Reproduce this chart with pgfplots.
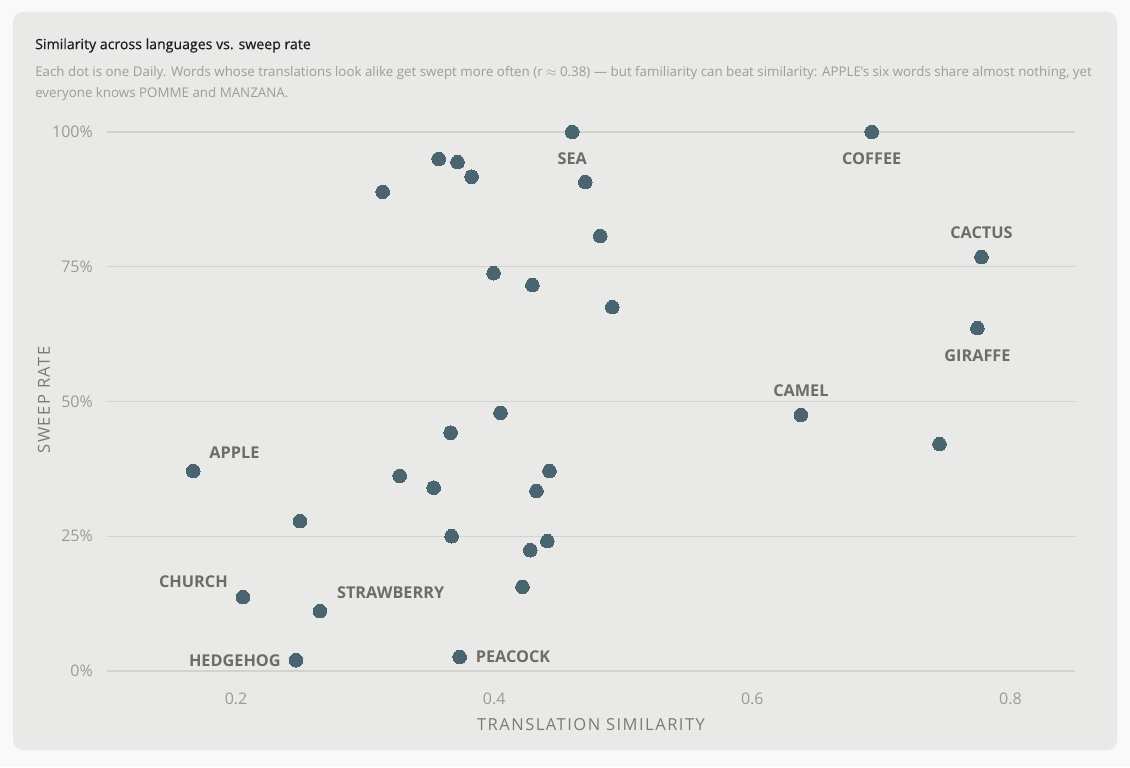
\documentclass[border=0pt]{standalone}
\usepackage{pgfplots}
\pgfplotsset{compat=1.18}
\usepackage{fontspec}
\setmainfont{Open Sans}
\definecolor{outerbg}{HTML}{F9F9F9}
\definecolor{cardbg}{HTML}{E9E9E7}
\definecolor{dotc}{HTML}{4A6470}
\definecolor{lblc}{HTML}{6F6C68}
\definecolor{gridc}{HTML}{D2D2D0}
\definecolor{tickc}{HTML}{9A9A98}
\definecolor{titlec}{HTML}{1E1E1E}
\definecolor{subc}{HTML}{9C9C9A}
\definecolor{axlblc}{HTML}{7A7A78}
\tikzset{lbl/.style={font=\fontsize{12.2pt}{14pt}\selectfont\bfseries, text=lblc, inner sep=0pt}}
\begin{document}
\begin{tikzpicture}[x=0.75pt,y=0.75pt]
\fill[outerbg] (0,0) rectangle (1130,767);
\fill[cardbg, rounded corners=7.5pt] (13,17) rectangle (1117,755);
\node[anchor=west, inner sep=0pt, font=\fontsize{10.6pt}{12pt}\selectfont\addfontfeatures{FakeBold=0.4}, text=titlec] at (35,721.5) {Similarity across languages vs. sweep rate};
\node[anchor=north west, inner sep=0pt, align=left, font=\fontsize{10pt}{15.75pt}\selectfont, text=subc] at (35,701) {Each dot is one Daily. Words whose translations look alike get swept more often (r $\approx$ 0.38) --- but familiarity can beat similarity: APPLE's six words share almost nothing, yet\\everyone knows POMME and MANZANA.};
\node[inner sep=0pt, font=\fontsize{12.4pt}{14pt}\selectfont\addfontfeatures{LetterSpace=9}, text=axlblc] at (591,42) {TRANSLATION SIMILARITY};
\node[inner sep=0pt, rotate=90, font=\fontsize{12.4pt}{14pt}\selectfont\addfontfeatures{LetterSpace=9}, text=axlblc] at (44,367) {SWEEP RATE};
\begin{axis}[
  at={(80.25pt,72pt)}, anchor=south west,
  scale only axis, width=726pt, height=404.25pt,
  xmin=0.1, xmax=0.85, ymin=0, ymax=100,
  clip=false,
  axis line style={draw=none},
  major tick style={draw=none},
  ymajorgrids, grid style={gridc, line width=1pt},
  xtick={0.2,0.4,0.6,0.8}, xticklabels={0.2,0.4,0.6,0.8},
  ytick={0,25,50,75,100}, yticklabels={0\%,25\%,50\%,75\%,100\%},
  /pgf/number format/assume math mode=true,
  tick label style={font=\fontsize{12pt}{14pt}\selectfont, text=tickc, inner sep=0pt},
  xticklabel style={anchor=center, yshift=-20.5pt},
  yticklabel style={anchor=east, xshift=-10.5pt},
]
\addplot[only marks, color=dotc, mark=*, mark size=5.1pt, mark options={fill=dotc, draw=dotc, line width=0pt}] coordinates {
(0.4605,100) (0.6925,100) (0.357,95.0) (0.3716,94.4) (0.3825,91.7) (0.3136,88.9)
(0.4706,90.7) (0.4822,80.7) (0.7775,76.8) (0.3995,73.8) (0.4296,71.6) (0.4915,67.5)
(0.7744,63.6) (0.6376,47.5) (0.4049,47.9) (0.3662,44.2) (0.745,42.1) (0.1668,37.1)
(0.4428,37.1) (0.3268,36.2) (0.3531,34.0) (0.4327,33.4) (0.2495,27.8) (0.3670,25.0)
(0.4412,24.1) (0.428,22.4) (0.2054,13.7) (0.4219,15.6) (0.2649,11.1) (0.2464,2.0)
(0.3732,2.6)
};
\node[lbl, yshift=-20.25pt] at (axis cs:0.4605,100) {SEA};
\node[lbl, yshift=-20.25pt] at (axis cs:0.6925,100) {COFFEE};
\node[lbl, yshift=18pt] at (axis cs:0.7775,76.8) {CACTUS};
\node[lbl, yshift=-20.25pt] at (axis cs:0.7744,63.6) {GIRAFFE};
\node[lbl, yshift=18pt] at (axis cs:0.6376,47.5) {CAMEL};
\node[lbl, anchor=west, xshift=12pt, yshift=13.5pt] at (axis cs:0.1668,37.1) {APPLE};
\node[lbl, anchor=east, xshift=-11.25pt, yshift=11.25pt] at (axis cs:0.2054,13.7) {CHURCH};
\node[lbl, anchor=west, xshift=12.75pt, yshift=13.5pt] at (axis cs:0.2649,11.1) {STRAWBERRY};
\node[lbl, anchor=east, xshift=-11.25pt] at (axis cs:0.2464,2.0) {HEDGEHOG};
\node[lbl, anchor=west, xshift=12pt] at (axis cs:0.3732,2.6) {PEACOCK};
\end{axis}
\end{tikzpicture}
\end{document}
